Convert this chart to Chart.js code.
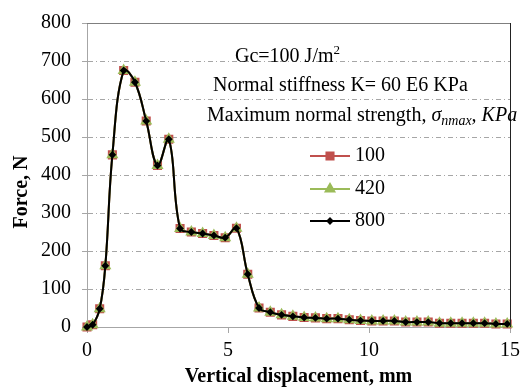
<!DOCTYPE html>
<html>
<head>
<meta charset="utf-8">
<script src="https://cdn.jsdelivr.net/npm/chart.js@4.4.0/dist/chart.umd.min.js"></script>
<style>
    body { margin: 0; background: #fff; }
    #wrap { width: 526px; height: 389px; position: relative; }
</style>
</head>
<body>
<div id="wrap"><canvas id="myChart"></canvas></div>
<script>
// Data
const displacement = [0, 0.2, 0.45, 0.65, 0.9, 1.3, 1.7, 2.1, 2.5, 2.9, 3.3, 3.7, 4.1, 4.5, 4.9, 5.3, 5.7,
    6.1, 6.5, 6.9, 7.3, 7.7, 8.1, 8.5, 8.9, 9.3, 9.7, 10.1, 10.5, 10.9, 11.3, 11.7, 12.1, 12.5, 12.9,
    13.3, 13.7, 14.1, 14.5, 14.9];
const force100 = [0, 6, 48, 161, 453, 675, 644, 542, 425, 494, 259, 250, 246, 241, 235, 260, 139,
    50, 39, 32, 28, 25, 24, 22, 22, 19, 17, 16, 16, 16, 13, 13, 13, 10, 10, 10, 10, 10, 8, 8];
const force420 = [0, 6, 48, 161, 453, 675, 644, 542, 425, 494, 259, 250, 246, 241, 235, 260, 139,
    50, 39, 32, 28, 25, 24, 22, 22, 19, 17, 16, 16, 16, 13, 13, 13, 10, 10, 10, 10, 10, 8, 8];
const force800 = [0, 6, 48, 161, 453, 675, 644, 542, 425, 494, 259, 250, 246, 241, 235, 260, 139,
    50, 39, 32, 28, 25, 24, 22, 22, 19, 17, 16, 16, 16, 13, 13, 13, 10, 10, 10, 10, 10, 8, 8];
const seriesLabels = ['100', '420', '800'];
const xTicks = [0, 5, 10, 15];
const yTicks = [0, 100, 200, 300, 400, 500, 600, 700, 800];

const serif = '"Liberation Serif", "Times New Roman", serif';

function pts(ys) {
    return displacement.map((x, i) => ({ x: x, y: ys[i] }));
}

// Notes + legend drawn inside the plot
const notes = {
    id: 'notes',
    afterDraw(chart) {
        const ctx = chart.ctx;
        const a = chart.chartArea;
        ctx.save();

        // plot frame (top + right)
        ctx.strokeStyle = '#7f7f7f';
        ctx.lineWidth = 1;
        ctx.beginPath();
        ctx.moveTo(a.left, a.top + 0.5);
        ctx.lineTo(a.right, a.top + 0.5);
        ctx.stroke();
        ctx.strokeStyle = '#222';
        ctx.beginPath();
        ctx.moveTo(a.right + 0.5, a.top);
        ctx.lineTo(a.right + 0.5, a.bottom);
        ctx.stroke();

        // y axis title
        ctx.fillStyle = '#000';
        ctx.font = 'bold 20px ' + serif;
        ctx.textAlign = 'center';
        ctx.textBaseline = 'middle';
        ctx.translate(22, 192);
        ctx.rotate(-Math.PI / 2);
        ctx.fillText('Force, N', 0, 0);
        ctx.setTransform(1, 0, 0, 1, 0, 0);

        ctx.textAlign = 'left';
        ctx.textBaseline = 'alphabetic';
        let x;

        // Gc line
        ctx.font = '20px ' + serif;
        x = 235;
        ctx.fillText('Gc=100 J/m', x, 62);
        x += ctx.measureText('Gc=100 J/m').width;
        ctx.font = '13px ' + serif;
        ctx.fillText('2', x, 54);

        ctx.font = '20px ' + serif;
        ctx.fillText('Normal stiffness K= 60 E6 KPa', 213, 91);

        // Maximum normal strength line
        x = 207;
        ctx.font = '20px ' + serif;
        ctx.fillText('Maximum normal strength, ', x, 121);
        x += ctx.measureText('Maximum normal strength, ').width;
        ctx.font = 'italic 20px ' + serif;
        ctx.fillText('\u03c3', x, 121);
        x += ctx.measureText('\u03c3').width;
        ctx.font = 'italic 14px ' + serif;
        ctx.fillText('nmax', x, 125);
        x += ctx.measureText('nmax').width;
        ctx.font = 'italic 20px ' + serif;
        ctx.fillText(', KPa', x, 121);

        // legend entries
        const rows = [156, 189, 221];
        chart.data.datasets.forEach((ds, i) => {
            const y = rows[i];
            ctx.strokeStyle = ds.borderColor;
            ctx.lineWidth = 2;
            ctx.beginPath();
            ctx.moveTo(310, y);
            ctx.lineTo(350, y);
            ctx.stroke();
            ctx.fillStyle = ds.pointBackgroundColor;
            ctx.strokeStyle = ds.pointBorderColor;
            Chart.helpers.drawPoint(ctx, {
                pointStyle: ds.pointStyle,
                radius: ds.pointRadius,
                rotation: 0,
                borderWidth: 1
            }, 330, y);
            ctx.fillStyle = '#000';
            ctx.font = '20px ' + serif;
            ctx.textBaseline = 'middle';
            ctx.fillText(ds.label, 355, y);
        });
        ctx.restore();
    }
};

// Chart.js
const ctx = document.getElementById('myChart').getContext('2d');
const chart = new Chart(ctx, {
    type: 'line',
    data: {
        datasets: [{
            label: seriesLabels[0],
            data: pts(force100),
            borderColor: '#C0504D',
            backgroundColor: '#C0504D',
            pointBackgroundColor: '#C0504D',
            pointBorderColor: '#C0504D',
            pointStyle: 'rect',
            pointRadius: 5,
            borderWidth: 2,
            order: 3
        }, {
            label: seriesLabels[1],
            data: pts(force420),
            borderColor: '#9BBB59',
            backgroundColor: '#9BBB59',
            pointBackgroundColor: '#9BBB59',
            pointBorderColor: '#9BBB59',
            pointStyle: 'triangle',
            pointRadius: 5,
            borderWidth: 2,
            order: 2
        }, {
            label: seriesLabels[2],
            data: pts(force800),
            borderColor: '#000',
            backgroundColor: '#000',
            pointBackgroundColor: '#000',
            pointBorderColor: '#000',
            pointStyle: 'rectRot',
            pointRadius: 2.5,
            borderWidth: 2,
            order: 1
        }]
    },
    options: {
        responsive: true,
        maintainAspectRatio: false,
        animation: false,
        clip: false,
        layout: { padding: { top: 21, right: 11, left: 0, bottom: 0 } },
        elements: { line: { tension: 0.4 }, point: { borderWidth: 1, hoverRadius: 5 } },
        plugins: { legend: { display: false }, tooltip: { enabled: false } },
        scales: {
            x: {
                type: 'linear',
                min: 0,
                max: 15,
                afterFit: (s) => { s.height = 62; },
                afterBuildTicks: (s) => { s.ticks = xTicks.map(v => ({ value: v })); },
                ticks: { color: '#000', font: { family: serif, size: 20 }, padding: 6, maxRotation: 0 },
                grid: { drawOnChartArea: false, tickLength: 6, color: '#a6a6a6' },
                border: { color: '#a6a6a6' },
                title: {
                    display: true,
                    text: 'Vertical displacement, mm',
                    color: '#000',
                    font: { family: serif, size: 20, weight: 'bold' },
                    padding: { top: 0, bottom: 0 }
                }
            },
            y: {
                min: 0,
                max: 800,
                afterFit: (s) => { s.width = 87; },
                afterBuildTicks: (s) => { s.ticks = yTicks.map(v => ({ value: v })); },
                ticks: { color: '#000', font: { family: serif, size: 20 }, padding: 11 },
                grid: { tickLength: 5, color: '#a6a6a6' },
                border: { color: '#a6a6a6', dash: [5, 3, 1, 3] }
            }
        }
    },
    plugins: [notes]
});
</script>
</body>
</html>
